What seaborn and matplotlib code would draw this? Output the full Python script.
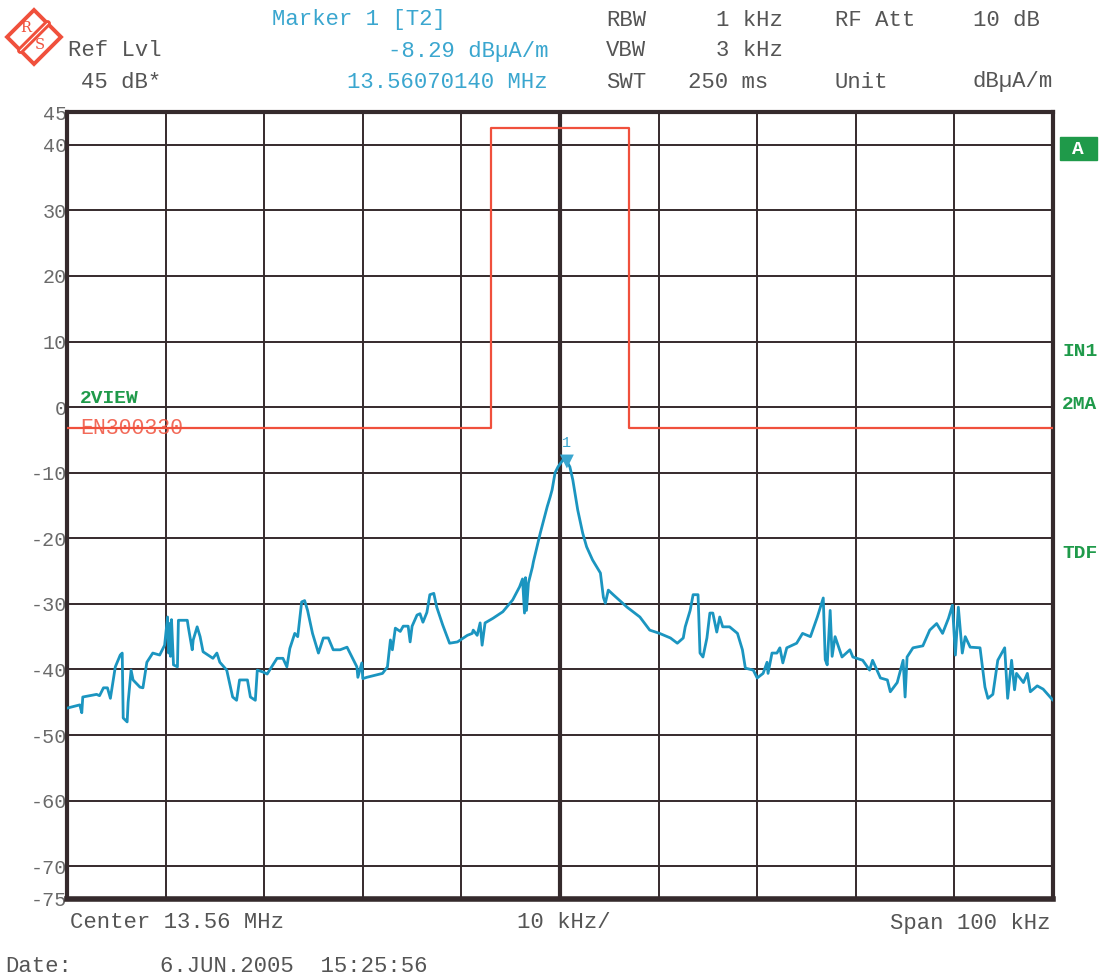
import numpy as np
import pandas as pd
import matplotlib
matplotlib.use("Agg")
import matplotlib.pyplot as plt
import matplotlib.patches as mpatches
import seaborn as sns

# trace (offset from 13.56 MHz in kHz, level in dBuA/m)
trace_khz = [-50.0, -48.7, -48.5, -48.4, -47.0, -46.7, -46.3, -45.9, -45.6, -45.1, -44.6, -44.4,
             -44.3, -43.9, -43.8, -43.5, -43.3, -42.6, -42.3, -41.9, -41.3, -40.6, -40.1, -39.8,
             -39.7, -39.6, -39.5, -39.4, -39.2, -38.8, -38.7, -37.8, -37.7, -37.3, -37.2, -36.8,
             -36.5, -36.2, -35.2, -34.8, -34.5, -33.8, -33.2, -32.8, -32.5, -31.7, -31.4, -30.9,
             -30.7, -30.1, -29.7, -28.7, -28.1, -27.7, -27.4, -26.9, -26.6, -26.2, -25.9, -25.6,
             -25.1, -24.5, -24.0, -23.5, -23.0, -22.3, -21.6, -21.1, -20.6, -20.5, -20.1, -20.0,
             -19.6, -18.0, -17.5, -17.2, -17.0, -16.7, -16.2, -15.9, -15.4, -15.2, -15.0, -14.5,
             -14.2, -13.9, -13.5, -13.2, -12.8, -12.5, -11.9, -11.2, -10.4, -9.4, -8.9, -8.8,
             -8.4, -8.1, -7.9, -7.6, -6.8, -5.8, -4.8, -4.1, -3.8, -3.6, -3.5, -3.4, -3.2, -2.8,
             -2.7, -2.0, -1.3, -1.0, -0.8, -0.5, -0.2, 0.3, 0.7, 1.0, 1.3, 1.8, 2.3, 2.7, 3.3,
             4.1, 4.4, 4.6, 4.9, 5.4, 6.8, 8.1, 9.1, 10.1, 11.2, 11.9, 12.5, 12.7, 13.2, 13.5,
             14.0, 14.2, 14.5, 14.9, 15.2, 15.5, 15.9, 16.2, 16.5, 17.2, 18.0, 18.5, 18.8, 19.6,
             20.0, 20.6, 21.0, 21.1, 21.5, 22.0, 22.3, 22.6, 23.0, 24.0, 24.6, 25.4, 26.1, 26.7,
             26.9, 27.1, 27.4, 27.6, 27.9, 28.6, 29.4, 29.7, 30.7, 31.4, 31.7, 32.5, 33.2, 33.5,
             34.2, 34.8, 35.0, 35.2, 35.8, 36.8, 37.5, 38.2, 38.8, 39.4, 39.8, 40.1, 40.4, 40.8,
             41.1, 41.6, 42.6, 43.1, 43.4, 43.9, 44.4, 45.1, 45.4, 45.8, 46.1, 46.3, 47.0, 47.4,
             47.7, 48.4, 49.0, 49.7, 50.0]
trace_db = [-45.9, -45.4, -46.6, -44.2, -43.8, -44.0, -42.8, -42.8, -44.4, -39.6, -37.8, -37.5,
            -47.4, -48.0, -45.0, -40.1, -41.6, -42.7, -42.8, -38.9, -37.5, -37.8, -36.3, -32.0,
            -37.5, -33.0, -38.0, -32.4, -39.3, -39.6, -32.5, -32.5, -33.5, -37.0, -35.5, -33.5,
            -35.0, -37.3, -38.3, -37.5, -38.9, -40.1, -44.2, -44.7, -41.6, -41.6, -44.2, -44.7,
            -40.1, -40.4, -40.7, -38.3, -38.3, -39.6, -36.8, -34.5, -35.0, -29.7, -29.5, -31.0,
            -34.5, -37.5, -35.2, -35.2, -37.0, -37.0, -36.6, -38.1, -39.6, -41.2, -39.0, -41.4,
            -41.2, -40.6, -39.6, -35.5, -37.0, -33.7, -34.2, -33.4, -33.4, -35.8, -33.4, -31.7,
            -31.5, -32.8, -31.3, -28.6, -28.4, -30.5, -33.2, -36.0, -35.8, -34.8, -34.5, -34.0,
            -34.8, -32.9, -36.3, -32.9, -32.2, -31.2, -29.4, -27.4, -26.2, -31.4, -26.0, -31.0,
            -26.8, -24.4, -23.6, -19.2, -15.2, -13.7, -12.6, -10.0, -9.1, -8.05, -8.29, -9.1,
            -11.1, -15.7, -19.2, -21.3, -23.3, -25.3, -29.0, -29.9, -27.9, -28.6, -30.5, -32.0,
            -34.0, -34.5, -35.2, -36.0, -35.2, -33.5, -31.0, -28.6, -28.6, -37.5, -38.1, -35.2,
            -31.4, -31.4, -34.3, -32.0, -33.5, -33.5, -34.5, -37.0, -39.8, -40.1, -41.3, -40.6,
            -38.9, -40.6, -37.5, -37.5, -36.7, -39.0, -36.7, -36.0, -34.5, -35.0, -32.0, -29.1,
            -38.5, -39.3, -31.0, -38.0, -35.0, -38.1, -37.0, -38.1, -38.6, -40.1, -38.6, -41.3,
            -41.6, -43.4, -42.0, -38.6, -44.2, -38.1, -36.7, -36.4, -34.0, -33.0, -34.5, -32.2,
            -30.2, -37.8, -30.5, -37.5, -35.0, -36.6, -36.7, -42.7, -44.4, -43.8, -38.6, -36.7,
            -44.4, -38.6, -43.1, -40.6, -42.0, -40.6, -43.4, -42.5, -43.0, -44.2, -44.7]

# EN300330 limit line
limit_khz = [-50, -7, -7, 7, 7, 50]
limit_db = [-3.2, -3.2, 42.6, 42.6, -3.2, -3.2]

marker_khz = 0.7
marker_db = -8.29

ytick_vals = [45, 40, 30, 20, 10, 0, -10, -20, -30, -40, -50, -60, -70, -75]
xtick_vals = list(range(-50, 51, 10))

sns.set_style("white")
plt.rcParams["font.family"] = ["Liberation Mono", "DejaVu Sans Mono"]

W, H = 1102, 977
fig = plt.figure(figsize=(W / 100, H / 100), dpi=100)
ax = fig.add_axes([67 / W, 1 - 899 / H, (1053 - 67) / W, (899 - 112) / H])

dark = "#352a2c"
cyan = "#1b95c0"
red = "#f0503c"
green = "#1f9a4a"
gray = "#555555"
light_cyan = "#3aa6cf"

df = pd.DataFrame({"khz": trace_khz, "db": trace_db})
lim = pd.DataFrame({"khz": limit_khz, "db": limit_db})

sns.lineplot(data=lim, x="khz", y="db", ax=ax, color=red, lw=1.6,
             estimator=None, sort=False, zorder=3)
sns.lineplot(data=df, x="khz", y="db", ax=ax, color=cyan, lw=2.0,
             estimator=None, sort=False, zorder=4)

ax.set_xlim(-50, 50)
ax.set_ylim(-75, 45)
ax.set_xticks(xtick_vals)
ax.set_xticklabels([])
ax.set_yticks(ytick_vals)
ax.set_yticklabels([str(v) for v in ytick_vals], color="#6a6a6a", fontsize=14.5)
ax.tick_params(length=0, pad=0)
ax.set_xlabel("")
ax.set_ylabel("")
ax.grid(True, color=dark, lw=1.4)
ax.axvline(0, color=dark, lw=3, zorder=2)
for s in ax.spines.values():
    s.set_color(dark)
    s.set_linewidth(3)
ax.spines["bottom"].set_linewidth(4)

# marker
ax.scatter([marker_khz], [marker_db], marker="v", s=100, color=light_cyan, zorder=5,
           edgecolors="none")
ax.annotate("1", (marker_khz, marker_db), xytext=(0, 8), textcoords="offset points",
            ha="center", va="bottom", color=light_cyan, fontsize=11)

# trace labels inside the grid
ax.text(-48.7, 0.0, "2VIEW", color=green, fontsize=14, fontweight="bold", va="bottom")
ax.text(-48.7, limit_db[0], "EN300330", color=red, fontsize=15.5, va="center", alpha=0.85)


def ftext(x, y, s, **kw):
    fig.text(x / W, 1 - y / H, s, va="center", **kw)


hdr = dict(fontsize=16, color=gray)
hdr_c = dict(fontsize=16, color=light_cyan)
ftext(272, 20, "Marker 1 [T2]", **hdr_c)
ftext(68, 51, "Ref Lvl", **hdr)
ftext(548, 51, "-8.29 dBµA/m", ha="right", **hdr_c)
ftext(81, 82, "45 dB*", **hdr)
ftext(548, 82, "13.56070140 MHz", ha="right", **hdr_c)
ftext(606, 20, "RBW", **hdr)
ftext(783, 20, "1 kHz", ha="right", **hdr)
ftext(835, 20, "RF Att", **hdr)
ftext(1040, 20, "10 dB", ha="right", **hdr)
ftext(606, 51, "VBW", **hdr)
ftext(783, 51, "3 kHz", ha="right", **hdr)
ftext(606, 82, "SWT", **hdr)
ftext(688, 82, "250 ms", **hdr)
ftext(835, 82, "Unit", **hdr)
ftext(1053, 82, "dBµA/m", ha="right", **hdr)

ftext(70, 923, "Center 13.56 MHz", **hdr)
ftext(517, 923, "10 kHz/", **hdr)
ftext(1050, 923, "Span 100 kHz", ha="right", **hdr)
ftext(5, 966, "Date:", **hdr)
ftext(160, 966, "6.JUN.2005  15:25:56", **hdr)

side = dict(fontsize=14, color=green, fontweight="bold")
ftext(1062, 352, "IN1", **side)
ftext(1062, 405, "2MA", **side)
ftext(1062, 553, "TDF", **side)
fig.patches.append(mpatches.Rectangle((1060 / W, 1 - 160 / H), 37 / W, 23 / H,
                                      transform=fig.transFigure, color=green))
ftext(1078, 149, "A", ha="center", fontsize=14, color="white", fontweight="bold")

# R&S logo
cx, cy, r = 34, 37, 27
diamond = [(cx / W, 1 - (cy - r) / H), ((cx + r) / W, 1 - cy / H),
           (cx / W, 1 - (cy + r) / H), ((cx - r) / W, 1 - cy / H)]
fig.patches.append(mpatches.Polygon(diamond, closed=True, fill=False, ec=red, lw=2.8,
                                    transform=fig.transFigure, joinstyle="miter"))
band_x = [(cx - r / 2) / W, (cx + r / 2) / W]
band_y = [1 - (cy + r / 2) / H, 1 - (cy - r / 2) / H]
fig.lines.append(plt.Line2D(band_x, band_y, color=red, lw=5, transform=fig.transFigure))
fig.lines.append(plt.Line2D(band_x, band_y, color="white", lw=0.8, transform=fig.transFigure))
ftext(cx - 8, cy - 9, "R", ha="center", fontsize=10.5, color=red, family="DejaVu Serif")
ftext(cx + 6, cy + 8, "S", ha="center", fontsize=10.5, color=red, family="DejaVu Serif")

fig.savefig("out.png", dpi=100)
